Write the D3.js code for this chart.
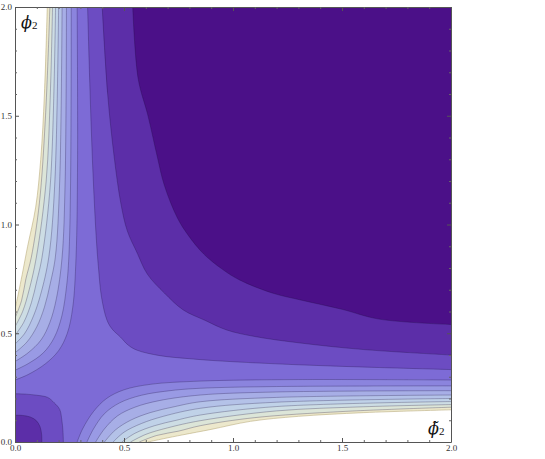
<!DOCTYPE html>
<html>
<head>
<meta charset="utf-8">
<script src="https://cdn.jsdelivr.net/npm/d3@7"></script>
<style>
  html, body { margin: 0; padding: 0; background: #fff; }
  svg { display: block; }
</style>
</head>
<body>
<div id="chart"></div>
<script>
// Contour plot of V(phi~2, phi2), contour lines.
// The surface is symmetric under phi2 <-> phi~2, so every curve is listed
// as one half and reflected across the diagonal when drawn.

// upper right basin, each half runs from the diagonal to the right edge
const basin1 = [[0.865,0.865],[0.95,0.795],[1.03,0.745],[1.18,0.685],[1.31,0.653],[1.5,0.61],[1.67,0.565],[2,0.54]];
const basin2 = [[0.685,0.685],[0.772,0.607],[0.87,0.56],[0.971,0.515],[1.1,0.485],[1.31,0.455],[1.6,0.425],[2,0.4]];
const basin3 = [[0.483,0.483],[0.52,0.445],[0.56,0.422],[0.665,0.397],[0.8,0.383],[0.95,0.372],[1.3,0.355],[1.65,0.343],[2,0.333]];

// dip at the origin, each half runs from the diagonal to the bottom edge
const dip2 = [[0.098,0.098],[0.115,0.07],[0.122,0.035],[0.123,0]];
const dip3 = [[0.18,0.18],[0.205,0.15],[0.215,0.1],[0.22,0.05],[0.222,0]];

// arm contours, lower arm from the bottom edge out to the right edge
const arm4  = [[0.285,0],[0.31,0.06],[0.36,0.14],[0.42,0.2],[0.5,0.24],[0.62,0.265],[0.85,0.28],[1.3,0.287],[2,0.285]];
const arm5  = [[0.33,0],[0.36,0.06],[0.41,0.13],[0.48,0.18],[0.58,0.215],[0.72,0.237],[0.85,0.247],[1.2,0.255],[2,0.258]];
const arm6  = [[0.37,0],[0.41,0.06],[0.47,0.12],[0.55,0.16],[0.66,0.19],[0.85,0.216],[1.2,0.23],[2,0.236]];
const arm7  = [[0.41,0],[0.46,0.055],[0.53,0.1],[0.62,0.135],[0.73,0.162],[0.85,0.185],[1.2,0.205],[2,0.216]];
const arm8  = [[0.45,0],[0.5,0.045],[0.58,0.085],[0.68,0.118],[0.85,0.155],[1.2,0.183],[2,0.2]];
const arm9  = [[0.49,0],[0.55,0.04],[0.64,0.075],[0.74,0.1],[0.85,0.124],[1.2,0.163],[2,0.186]];
const arm10 = [[0.53,0],[0.6,0.035],[0.7,0.065],[0.85,0.098],[1.2,0.143],[1.6,0.162],[2,0.172]];
const arm11 = [[0.57,0],[0.65,0.03],[0.75,0.05],[0.85,0.075],[1.1,0.112],[1.5,0.14],[2,0.16]];
const arm12 = [[0.61,0],[0.68,0.015],[0.77,0.033],[0.9,0.058],[1.08,0.095],[1.3,0.118],[1.6,0.135],[2,0.148]];

// band colours, darkest (lowest) first
const bandColors = ['#4b1088','#5c2ea8','#6c4cc2','#7d6bd6','#8b84de','#999ae4',
                    '#a7aee6','#b4c2e8','#c0d2e8','#cddde4','#dce5d8','#ece8cc'];

const majorTicks = [0, 0.5, 1, 1.5, 2];
const minorTicks = [0.1,0.2,0.3,0.4,0.6,0.7,0.8,0.9,1.1,1.2,1.3,1.4,1.6,1.7,1.8,1.9];

const W = 545, H = 459;
const plotL = 15, plotR = 451, plotT = 7, plotB = 442;

const svg = d3.select('#chart').append('svg')
  .attr('width', W)
  .attr('height', H);

const x = d3.scaleLinear().domain([0, 2]).range([plotL, plotR]);
const y = d3.scaleLinear().domain([0, 2]).range([plotB, plotT]);

svg.append('clipPath').attr('id', 'plot-clip')
  .append('rect')
  .attr('x', plotL).attr('y', plotT)
  .attr('width', plotR - plotL).attr('height', plotB - plotT);

const g = svg.append('g').attr('clip-path', 'url(#plot-clip)');

g.append('rect')
  .attr('x', plotL).attr('y', plotT)
  .attr('width', plotR - plotL).attr('height', plotB - plotT)
  .attr('fill', '#fff');

const line = d3.line()
  .x(d => x(d[0]))
  .y(d => y(d[1]))
  .curve(d3.curveCatmullRom.alpha(0.5));

const swap = p => [p[1], p[0]];
// half starting on the diagonal -> whole curve
const fromDiagonal = half => half.slice(1).reverse().map(swap).concat(half);

function armShape(lower) {
  const upper = lower.slice().reverse().map(swap);
  return line(upper) + `L${x(0)},${y(0)}` + line(lower).replace(/^M/, 'L') + `L${x(2)},${y(2)}Z`;
}
const basinShape = half => line(fromDiagonal(half)) + `L${x(2)},${y(2)}Z`;
const dipShape = half => line(fromDiagonal(half)) + `L${x(0)},${y(0)}Z`;

const arms = [arm4, arm5, arm6, arm7, arm8, arm9, arm10, arm11, arm12];

// fill from the widest set inwards
for (let k = arms.length - 1; k >= 0; k--) {
  g.append('path').attr('d', armShape(arms[k])).attr('fill', bandColors[k + 3]);
}
g.append('path').attr('d', basinShape(basin3)).attr('fill', bandColors[2]);
g.append('path').attr('d', dipShape(dip3)).attr('fill', bandColors[2]);
g.append('path').attr('d', basinShape(basin2)).attr('fill', bandColors[1]);
g.append('path').attr('d', dipShape(dip2)).attr('fill', bandColors[1]);
g.append('path').attr('d', basinShape(basin1)).attr('fill', bandColors[0]);

// contour lines
const lines = g.append('g')
  .attr('fill', 'none')
  .attr('stroke', '#1a0a3a')
  .attr('stroke-opacity', 0.35)
  .attr('stroke-width', 0.8);

arms.forEach((a, i) => {
  const col = i === arms.length - 1 ? '#b8a878' : null;
  [a, a.slice().reverse().map(swap)].forEach(c => {
    const p = lines.append('path').attr('d', line(c));
    if (col) p.attr('stroke', col).attr('stroke-opacity', 0.7);
  });
});
[basin1, basin2, basin3, dip2, dip3].forEach(h => {
  lines.append('path').attr('d', line(fromDiagonal(h)));
});

// frame with inward ticks on every side
function frameAxis(axis, pos, labels) {
  const a = axis.tickValues(majorTicks).tickSizeInner(-4).tickSizeOuter(0).tickPadding(3)
    .tickFormat(labels ? d3.format('.1f') : '');
  const ga = svg.append('g').attr('transform', pos).call(a);
  ga.select('.domain').attr('stroke', '#555');
  ga.selectAll('.tick line').attr('stroke', '#555');
  ga.selectAll('.tick text')
    .attr('fill', '#333')
    .style('font-family', '"Liberation Serif", "DejaVu Serif", serif')
    .style('font-size', '9px');
  const gm = svg.append('g').attr('transform', pos)
    .call(axis.tickValues(minorTicks).tickSizeInner(-2).tickSizeOuter(0).tickFormat(''));
  gm.select('.domain').remove();
  gm.selectAll('.tick line').attr('stroke', '#666');
  return ga;
}

frameAxis(d3.axisLeft(y), `translate(${plotL},0)`, true);
frameAxis(d3.axisBottom(x), `translate(0,${plotB})`, true);
frameAxis(d3.axisRight(y), `translate(${plotR},0)`, false);
frameAxis(d3.axisTop(x), `translate(0,${plotT})`, false);

// axis labels inside the frame
const greek = '"DejaVu Serif", "Liberation Serif", serif';
const serif = '"Liberation Serif", "DejaVu Serif", serif';

const lab1 = svg.append('text')
  .attr('x', 21).attr('y', 28)
  .attr('fill', '#111');
lab1.append('tspan').style('font-family', greek).style('font-style', 'italic').style('font-size', '16px').text('ϕ');
lab1.append('tspan').style('font-family', serif).style('font-size', '11px').attr('dy', 1).text('2');

const lab2 = svg.append('text')
  .attr('x', 428).attr('y', 434)
  .attr('fill', '#111');
lab2.append('tspan').style('font-family', greek).style('font-style', 'italic').style('font-size', '16px').text('ϕ\u0303');
lab2.append('tspan').style('font-family', serif).style('font-size', '11px').attr('dy', 1).text('2');
</script>
</body>
</html>
